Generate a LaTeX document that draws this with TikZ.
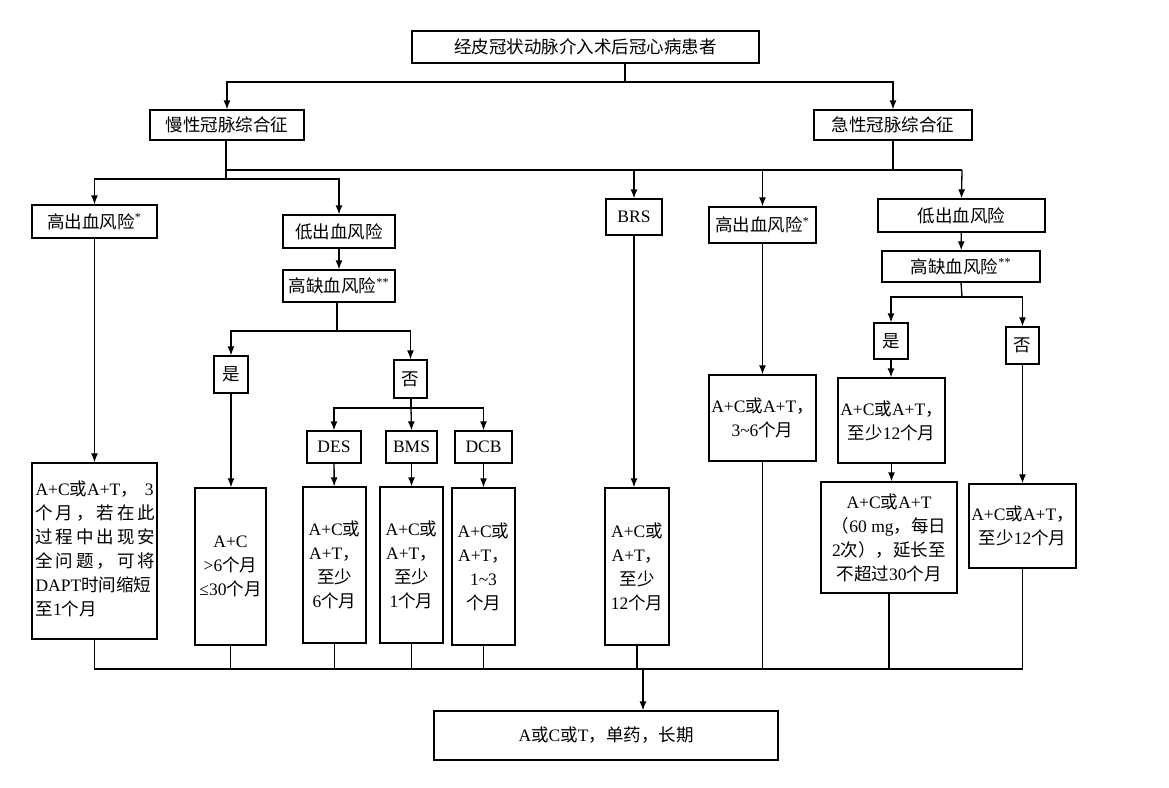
\documentclass[tikz,border=0pt]{standalone}
\usepackage{fontspec}
\setmainfont{Liberation Serif}
\newfontfamily\cjk{Noto Sans CJK SC}
\usetikzlibrary{arrows.meta}
\XeTeXinterchartokenstate=1
\newXeTeXintercharclass\cjkclass
\newcount\cc
\def\setrange#1#2{\cc=#1 \loop\XeTeXcharclass\cc=\cjkclass \ifnum\cc<#2 \advance\cc by 1 \repeat}
\setrange{"4E00}{"9FFF}
\setrange{"3000}{"303F}
\setrange{"FF00}{"FFEF}
\XeTeXinterchartoks 0 \cjkclass = {\begingroup\cjk}
\XeTeXinterchartoks 4095 \cjkclass = {\begingroup\cjk}
\XeTeXinterchartoks \cjkclass 0 = {\endgroup}
\XeTeXinterchartoks \cjkclass 4095 = {\endgroup}
\def\tl{{\char"7E}}
\tikzset{
  box/.style={draw, line width=1.3pt, inner sep=0pt, align=center, font=\fontsize{17.5}{24}\selectfont},
  arr/.style={line width=1.3pt, -{Latex[length=9pt,width=7pt]}},
  ln/.style={line width=1.3pt}
}
\newcommand\bx[6]{%
  \pgfmathsetmacro\bw{#4-#2}\pgfmathsetmacro\bh{#5-#3}%
  \pgfmathsetmacro\cxx{(#2+#4)/2}\pgfmathsetmacro\cyy{(#3+#5)/2}%
  \node[box, minimum width=\bw pt, minimum height=\bh pt] (#1) at (\cxx,\cyy) {#6};}
\begin{document}
\begin{tikzpicture}[x=1pt,y=-1pt]
\useasboundingbox (0,0) rectangle (1169,787);
\fill[white] (0,0) rectangle (1169,787);
\bx{top}{412}{31}{759}{63}{经皮冠状动脉介入术后冠心病患者}
\bx{ccs}{150}{110}{304}{140}{慢性冠脉综合征}
\bx{acs}{814}{110}{972}{140}{急性冠脉综合征}
\bx{hb1}{32}{205}{157}{238}{高出血风险\textsuperscript{*}}
\bx{lb1}{283}{215}{395}{248}{低出血风险}
\bx{ib1}{283}{270}{395}{302}{高缺血风险\textsuperscript{**}}
\bx{yes1}{214}{356}{248}{393}{是}
\bx{no1}{394}{360}{427}{398}{否}
\bx{des}{307}{431}{361}{463}{DES}
\bx{bms}{386}{431}{437}{463}{BMS}
\bx{dcb}{455}{431}{512}{463}{DCB}
\bx{brs}{606}{199}{662}{235}{BRS}
\bx{hb2}{709}{207}{816}{243}{高出血风险\textsuperscript{*}}
\bx{lb2}{878}{199}{1045}{232}{低出血风险}
\bx{ib2}{882}{251}{1040}{282}{高缺血风险\textsuperscript{**}}
\bx{yes2}{874}{323}{908}{359}{是}
\bx{no2}{1006}{327}{1039}{364}{否}
\bx{r1}{32}{463}{157}{639}{\begin{tabular}{@{}l@{}}\makebox[118pt][s]{A+C或A+T， 3}\\
\makebox[118pt][s]{个 月 ， 若 在 此}\\
\makebox[118pt][s]{过 程 中 出 现 安}\\
\makebox[118pt][s]{全 问 题 ， 可 将}\\
DAPT时间缩短\\至1个月\end{tabular}}
\bx{r2}{195}{488}{266}{645}{A+C\\>6个月\\≤30个月}
\bx{r3}{303}{487}{366}{643}{A+C或\\A+T，\\至少\\6个月}
\bx{r4}{380}{487}{443}{643}{A+C或\\A+T，\\至少\\1个月}
\bx{r5}{452}{488}{515}{645}{A+C或\\A+T，\\1\tl 3\\个月}
\bx{r6}{605}{488}{669}{645}{A+C或\\A+T，\\至少\\12个月}
\bx{r7}{709}{375}{816}{461}{A+C或A+T，\\3\tl 6个月}
\bx{r8}{838}{378}{945}{463}{A+C或A+T，\\至少12个月}
\bx{r9}{821}{482}{957}{593}{A+C或A+T\\（60 mg，每日\\2次），延长至\\不超过30个月}
\bx{r10}{969}{484}{1076}{568}{A+C或A+T，\\至少12个月}
\bx{fin}{434}{711}{778}{760}{A或C或T，单药，长期}
% top level
\coordinate (b1) at (625,82);
\draw[ln] (top.south -| b1) -- (b1);
\draw[arr] (b1) -| (ccs.north);
\draw[arr] (b1) -| (acs.north);
% CCS
\coordinate (b2) at (226,179);
\draw[ln] (ccs.south -| b2) -- (b2);
\draw[arr] (b2) -| (hb1.north);
\draw[arr] (b2) -| (lb1.north);
\draw[arr] (lb1) -- (ib1);
\coordinate (b3) at (337,331);
\draw[ln] (ib1.south -| b3) -- (b3);
\draw[arr] (b3) -| (yes1.north);
\draw[arr] (b3) -| (no1.north);
\coordinate (b4) at (411,408);
\draw[ln] (no1.south -| b4) -- (b4);
\draw[arr] (b4) -| (des.north);
\draw[arr] (b4) -- (bms.north);
\draw[arr] (b4) -| (dcb.north);
% long bus
\coordinate (b5a) at (226,170);
\coordinate (b5b) at (962,170);
\draw[ln] (b5a) -- (b5b);
\draw[ln] (acs.south) -- (acs.south |- b5a);
\draw[arr] (brs.north |- b5a) -- (brs.north);
\draw[arr] (hb2.north |- b5a) -- (hb2.north);
\draw[arr] (b5b) -- (lb2.north);
\draw[arr] (lb2) -- (ib2);
\coordinate (b6) at (962,297);
\draw[ln] (ib2.south) -- (b6);
\draw[arr] (b6) -| (yes2.north);
\draw[arr] (b6) -| (no2.north);
% to results
\draw[arr] (hb1) -- (r1);
\draw[arr] (yes1) -- (yes1 |- r2.north);
\draw[arr] (des) -- (r3);
\draw[arr] (bms) -- (r4);
\draw[arr] (dcb) -- (r5);
\draw[arr] (brs) -- (brs |- r6.north);
\draw[arr] (hb2) -- (r7);
\draw[arr] (yes2) -- (yes2 |- r8.north);
\draw[arr] (r8) -- (r8 |- r9.north);
\draw[arr] (no2) -- (no2 |- r10.north);
% bottom bus
\coordinate (b7) at (643,669);
\draw[ln] (r1.south) -- (r1.south |- b7) -- (r10.south |- b7) -- (r10.south);
\foreach \n in {r2,r3,r4,r5,r6,r7,r9} \draw[ln] (\n.south) -- (\n.south |- b7);
\draw[arr] (b7) -- (b7 |- fin.north);
\end{tikzpicture}
\end{document}
